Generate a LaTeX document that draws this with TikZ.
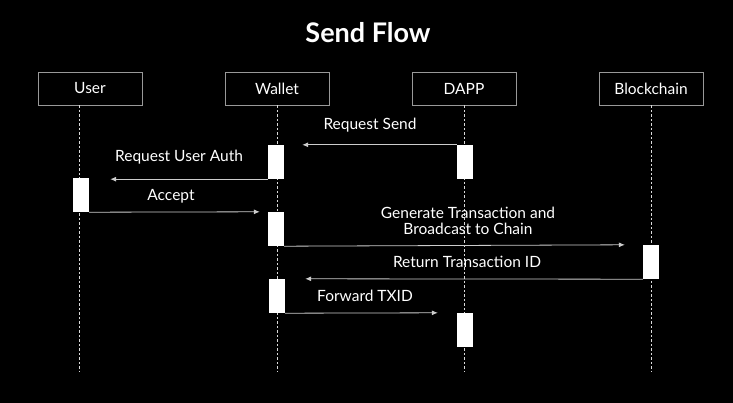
\documentclass[tikz,border=0pt]{standalone}
\usepackage{fontspec}
\setmainfont{Lato}
\usetikzlibrary{arrows.meta}

\begin{document}
\begin{tikzpicture}[x = 1pt, y = -1pt,
  actor/.style = {draw = white!60!black, line width = 0.7pt, minimum width = 104pt,
    minimum height = 33pt, inner sep = 0pt, text = white, font = \fontsize{15.5}{18}\selectfont},
  act/.style = {fill = white, minimum width = 16pt, minimum height = 34pt, inner sep = 0pt},
  life/.style = {white!85!black, line width = 0.6pt, dash pattern = on 2.5pt off 2pt},
  msg/.style = {white!80!black, line width = 0.8pt, -{Latex[length = 6pt, width = 5pt]}},
  lbl/.style = {text = white, font = \fontsize{15.5}{18}\selectfont, align = center, inner sep = 0pt}]
\fill[black] (0, 0) rectangle (733, 403);
\node[text = white, font = \fontsize{27}{32}\bfseries] (title) at (368, 33) {Send Flow};

\node[actor] (user) at (90, 88.5) {User};
\node[actor] (wallet) at (277, 88.5) {Wallet};
\node[actor] (dapp) at (464, 88.5) {DAPP};
\node[actor] (chain) at (651, 88.5) {Blockchain};

\coordinate (userend) at (79, 372);
\coordinate (walletend) at (277, 372);
\coordinate (dappend) at (464, 372);
\coordinate (chainend) at (651, 372);
\draw[life] (user.south -| userend) -- (userend);
\draw[life] (wallet.south) -- (walletend);
\draw[life] (dapp.south) -- (dappend);
\draw[life] (chain.south) -- (chainend);

\node[act] (wallet1) at (276, 162) {};
\node[act] (dapp1) at (465, 162) {};
\node[act] (user1) at (81, 195) {};
\node[act] (wallet2) at (276, 229) {};
\node[act] (chain1) at (651, 262) {};
\node[act] (wallet3) at (277, 296) {};
\node[act] (dapp2) at (465, 330) {};

\draw[msg] (dapp1.north west) -- ([xshift = 18pt]wallet1.north east);
\draw[msg] (wallet1.south west) -- ([xshift = 21pt]user1.north east |- wallet1.south west);
\draw[msg] (user1.south east) -- ([xshift = -8pt]wallet2.north west);
\draw[msg] (wallet2.south east) -- ([xshift = -18pt]chain1.north west);
\draw[msg] (chain1.south west) -- ([xshift = 20pt]wallet3.north east);
\draw[msg] (wallet3.south east) -- ([xshift = -19pt]dapp2.north west);

\node[lbl] (send) at (370, 125) {Request Send};
\node[lbl] (auth) at (179, 157) {Request User Auth};
\node[lbl] (accept) at (171, 196) {Accept};
\node[lbl] (generate) at (468, 221) {Generate Transaction and\\[-2pt]Broadcast to Chain};
\node[lbl] (return) at (467, 262) {Return Transaction ID};
\node[lbl] (forward) at (365, 296) {Forward TXID};
\end{tikzpicture}
\end{document}
